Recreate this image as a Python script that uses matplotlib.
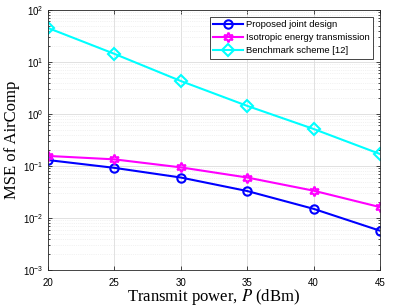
import matplotlib
matplotlib.use("Agg")
import matplotlib.pyplot as plt
from matplotlib.ticker import LogLocator, NullFormatter

plt.rcParams['font.family'] = 'Liberation Sans'
plt.rcParams['mathtext.fontset'] = 'stix'

# transmit power (dBm)
power = [20, 25, 30, 35, 40, 45]

# MSE values
mse_proposed = [0.13, 0.092, 0.060, 0.033, 0.015, 0.0057]
mse_isotropic = [0.156, 0.134, 0.094, 0.060, 0.0335, 0.0162]
mse_benchmark = [45, 14.3, 4.3, 1.43, 0.515, 0.17]

labels = ["Proposed joint design", "Isotropic energy transmission", "Benchmark scheme [12]"]

fig = plt.figure(figsize=(3.99, 3.06), dpi=100)
ax = fig.add_axes([0.1203, 0.1176, 0.832, 0.850])

ax.plot(power, mse_proposed, color="#0000ff", linewidth=1.5, marker="o",
        markersize=6, markerfacecolor="none", markeredgewidth=1.5, label=labels[0])
ax.plot(power, mse_isotropic, color="#ff00ff", linewidth=1.5, marker=(6, 1, 0),
        markersize=7, markerfacecolor="none", markeredgewidth=1.5, label=labels[1])
ax.plot(power, mse_benchmark, color="#00ffff", linewidth=1.5, marker="D",
        markersize=6, markerfacecolor="none", markeredgewidth=1.5, label=labels[2])

ax.set_yscale("log")
ax.set_xlim(20, 45)
ax.set_ylim(1e-3, 1e2)
ax.set_xticks([20, 25, 30, 35, 40, 45])
ax.yaxis.set_major_locator(LogLocator(base=10, numticks=10))
ax.yaxis.set_minor_locator(LogLocator(base=10, subs=range(2, 10), numticks=20))
ax.yaxis.set_minor_formatter(NullFormatter())

ax.grid(True, which="major", color="#dcdcdc", linewidth=0.6)
ax.grid(True, which="minor", color="#e6e6e6", linewidth=0.5, linestyle=":")
ax.tick_params(which="both", direction="in", top=True, right=True, labelsize=7, width=0.5)
ax.tick_params(axis="x", pad=6)
ax.tick_params(which="major", length=3)
ax.tick_params(which="minor", length=1.5)
for s in ax.spines.values():
    s.set_linewidth(0.6)
    s.set_color("#262626")

ax.set_xlabel("Transmit power, $P$ (dBm)", family="Liberation Serif", fontsize=12)
ax.xaxis.set_label_coords(0.5, -0.066)
ax.set_ylabel("MSE of AirComp", family="Liberation Serif", fontsize=12, labelpad=2)

leg = ax.legend(loc="upper right", fontsize=6.8, fancybox=False, framealpha=1,
                edgecolor="#262626", borderpad=0.35, labelspacing=0.45,
                handlelength=3.2, handletextpad=0.3, borderaxespad=0.7)
leg.get_frame().set_linewidth(0.6)

fig.savefig("out.png", dpi=100)
